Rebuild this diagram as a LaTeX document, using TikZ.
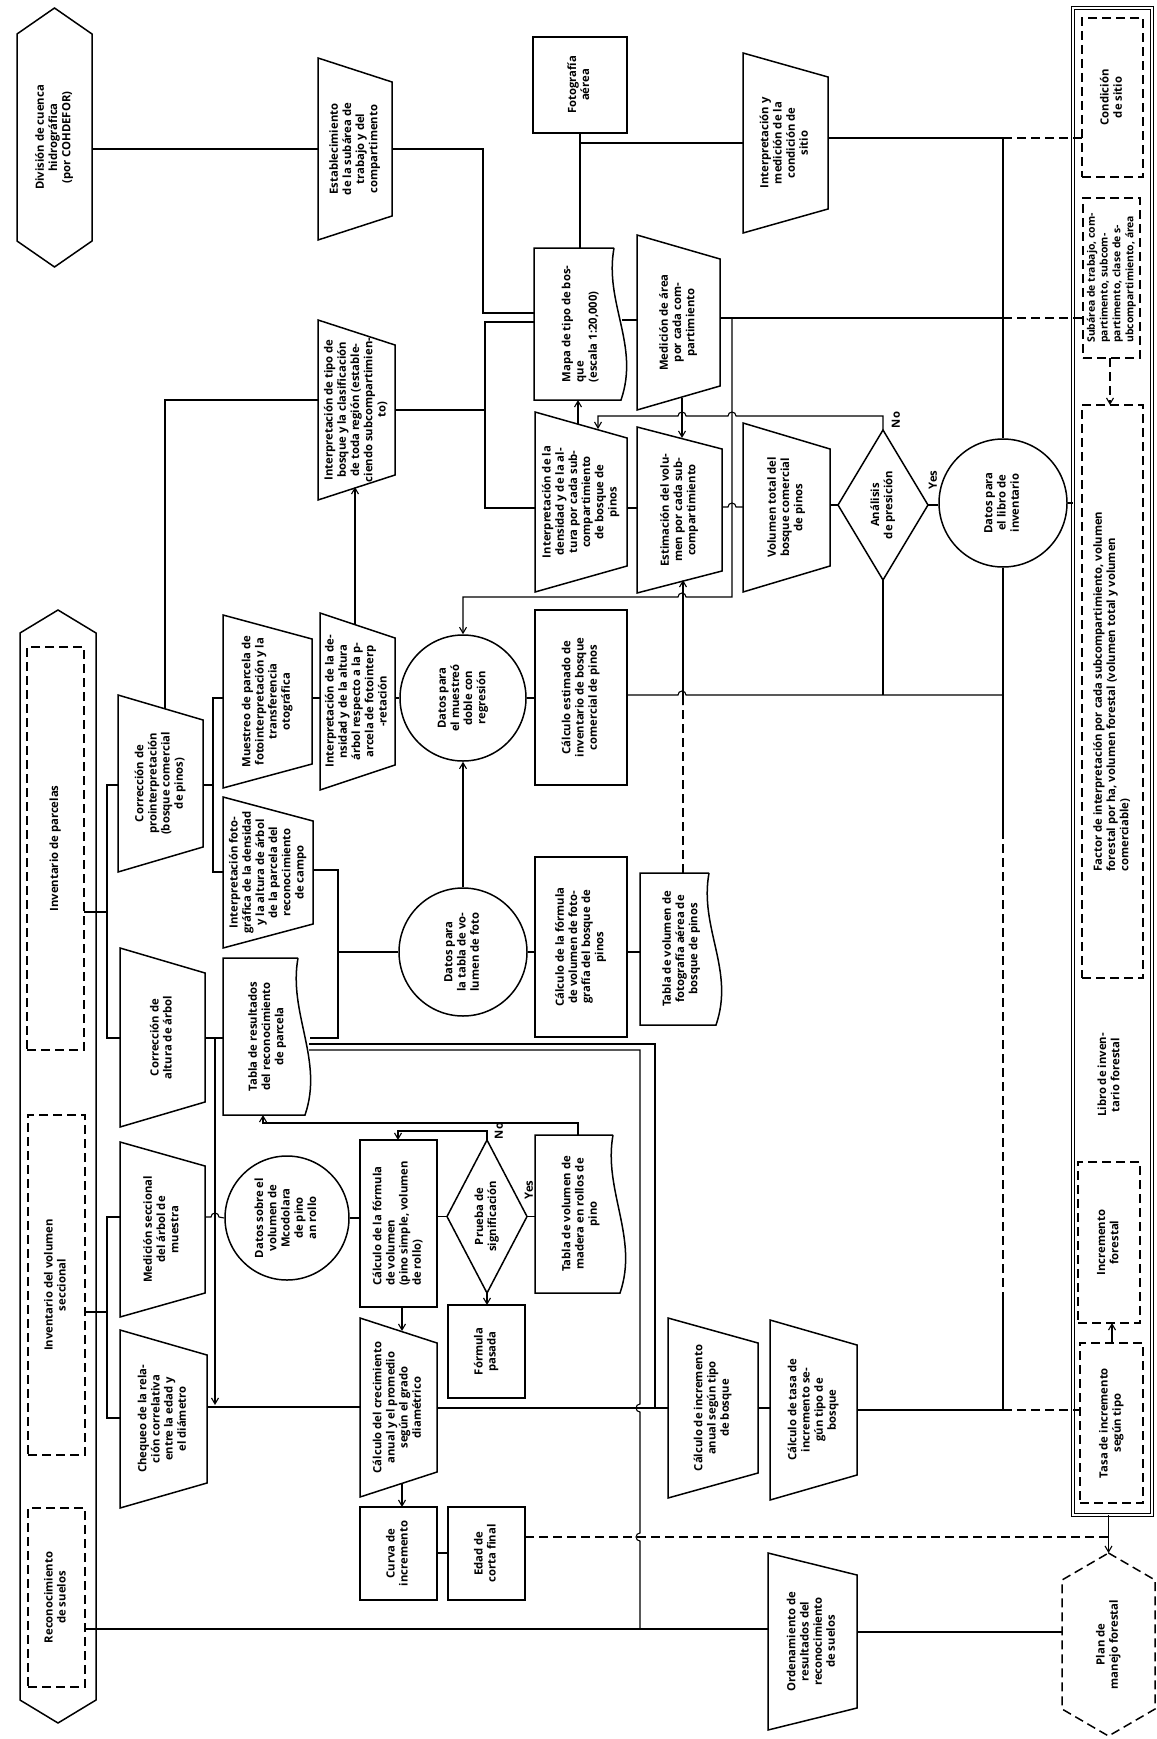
\documentclass[tikz,border=0pt]{standalone}
\usepackage{fontspec}
\usepackage{graphicx}
\setmainfont{Open Sans}
\usetikzlibrary{calc,arrows.meta}
\newcommand\rt[1]{\rotatebox{90}{\begin{tabular}{@{}c@{}}#1\end{tabular}}}
\newcommand\rtl[1]{\rotatebox{90}{\begin{tabular}{@{}l@{}}#1\end{tabular}}}
\newcommand\trap[2]{\draw[shp] (#1.north west) -- (#1.south west) -- ($(#1.south east)+(0,-#2)$) -- ($(#1.north east)+(0,#2)$) -- cycle;}
\newcommand\docsh[1]{\draw[shp] ($(#1.north east)+(-14,0)$) -- (#1.north west) -- (#1.south west) -- ($(#1.south east)+(-7,0)$) .. controls ($(#1.south east)+(12,-55)$) and ($(#1.north east)+(-24,55)$) .. ($(#1.north east)+(-14,0)$);}
\newcommand\hexv[3][]{\draw[shp,#1] (#2.north) -- ($(#2.north east)+(0,#3)$) -- ($(#2.south east)+(0,-#3)$) -- (#2.south) -- ($(#2.south west)+(0,-#3)$) -- ($(#2.north west)+(0,#3)$) -- cycle;}
\newcommand\dia[1]{\draw[shp] (#1.north) -- (#1.east) -- (#1.south) -- (#1.west) -- cycle;}
\begin{document}
\begin{tikzpicture}[x=1pt,y=-1pt,line width=1.1pt,
  every node/.style={font=\bfseries\fontsize{11.3}{13.2}\selectfont},
  tb/.style={rectangle,inner sep=0pt,outer sep=0pt},
  dsh/.style={dash pattern=on 9pt off 5pt},
  rb/.style={tb,draw,line width=1.5pt},
  db/.style={tb,draw,line width=1.5pt,dsh},
  cb/.style={circle,draw,line width=1.5pt,inner sep=0pt,minimum size=#1},
  shp/.style={line width=1.5pt},
  arr/.style={-{Straight Barb[length=6pt,width=7pt]}},
  lab/.style={rotate=90,inner sep=0pt}]
\useasboundingbox (0,0) rectangle (1156,1739);

% ---- left column
\node[tb,minimum width=75pt,minimum height=259pt] (div) at (54.5,137.5) {\rt{División de cuenca\\hidrográfica\\(por COHDEFOR)}};
\hexv{div}{26}
\node[tb,minimum width=76pt,minimum height=1113pt] (inv) at (58,1166.5) {};
\hexv{inv}{23}
\node[db,minimum width=57pt,minimum height=403pt] (parc) at (55.5,848.5) {\rt{Inventario de parcelas}};
\node[db,minimum width=57pt,minimum height=340pt] (vol) at (56.5,1285) {\rt{Inventario del volumen\\seccional}};
\node[db,minimum width=57pt,minimum height=179pt] (suel) at (56.5,1597.5) {\rt{Reconocimiento\\de suelos}};

% ---- trapezoids and boxes
\node[tb,minimum width=74pt,minimum height=182pt] (est) at (355,149) {\rt{Establecimiento\\de la subárea de\\trabajo y del\\compartimento}};
\trap{est}{24}
\node[tb,minimum width=77pt,minimum height=180pt] (tipo) at (356.5,410) {\rt{Interpretación de tipo de\\bosque y la clasificación\\de toda región (estable-\\ciendo subcompartimien-\\to)}};
\trap{tipo}{25}
\node[rb,minimum width=94pt,minimum height=96pt] (foto) at (580,85) {\rt{Fotografía\\aérea}};
\node[tb,minimum width=94pt,minimum height=152pt] (mapa) at (581,324) {\rtl{Mapa de tipo de bos-\\que\\(escala 1:20,000)}};
\docsh{mapa}
\node[tb,minimum width=83pt,minimum height=175pt] (medarea) at (678.5,322.5) {\rt{Medición de área\\por cada com-\\partimiento}};
\trap{medarea}{24}
\node[tb,minimum width=85pt,minimum height=180pt] (sitio) at (785.5,143) {\rt{Interpretación y\\medición de la\\condición de\\sitio}};
\trap{sitio}{24}
\node[tb,minimum width=92pt,minimum height=180pt] (intdens) at (581,502) {\rt{Interpretación de la\\densidad y de la al-\\tura por cada sub-\\compartimiento\\de bosque de\\pinos}};
\trap{intdens}{26}
\node[tb,minimum width=85pt,minimum height=166pt] (estim) at (679.5,510) {\rt{Estimación del volu-\\men por cada sub-\\compartimiento}};
\trap{estim}{22}
\node[tb,minimum width=87pt,minimum height=169pt] (voltot) at (786.5,507.5) {\rt{Volumen total del\\bosque comercial\\de pinos}};
\trap{voltot}{26}
\node[tb,minimum width=90pt,minimum height=150pt] (analisis) at (883,505) {\rt{Análisis\\de presición}};
\dia{analisis}
\node[cb=128pt] (libro) at (1003,503) {\rt{Datos para\\el libro de\\inventario}};

\node[tb,minimum width=85pt,minimum height=177pt] (cprofi) at (160.5,783.5) {\rt{Corrección de\\prointerpretación\\(bosque comercial\\de pinos)}};
\trap{cprofi}{25}
\node[tb,minimum width=89pt,minimum height=173pt] (muestreo) at (267.5,701.5) {\rt{Muestreo de parcela de\\fotointerpretación y la\\transferencia\\otográfica}};
\trap{muestreo}{24}
\node[tb,minimum width=90pt,minimum height=151pt] (intfot) at (268,872.5) {\rt{Interpretación foto-\\gráfica de la densidad\\y la altura de árbol\\de la parcela del\\reconocimiento\\de campo}};
\trap{intfot}{24}
\node[tb,minimum width=75pt,minimum height=177pt] (intdfi) at (357.5,701.5) {\rt{Interpretación de la de-\\nsidad y de la altura\\árbol respecto a la p-\\arcela de fotointerp\\-retación}};
\trap{intdfi}{25}
\node[cb=126pt] (muest) at (463,698) {\rt{Datos para\\el muestreó\\doble con\\regresión}};
\node[rb,minimum width=92pt,minimum height=175pt] (calcest) at (581,697.5) {\rt{Cálculo estimado de\\inventario de bosque\\comercial de pinos}};
\node[cb=128pt] (tabfoto) at (463,952) {\rt{Datos para\\la tabla de vo-\\lumen de foto}};
\node[rb,minimum width=92pt,minimum height=180pt] (calcfv) at (581,947) {\rt{Cálculo de la fórmula\\de volumen de foto-\\grafía del bosque de\\pinos}};
\node[tb,minimum width=83pt,minimum height=152pt] (tabvfa) at (681.5,949) {\rt{Tabla de volumen de\\fotografía aérea de\\bosque de pinos}};
\docsh{tabvfa}

\node[tb,minimum width=85pt,minimum height=179pt] (corralt) at (162.5,1037.5) {\rt{Corrección de\\altura de árbol}};
\trap{corralt}{25}
\node[tb,minimum width=89pt,minimum height=157pt] (tabres) at (267.5,1036.5) {\rt{Tabla de resultados\\del reconocimiento\\de parcela}};
\docsh{tabres}
\node[tb,minimum width=85pt,minimum height=175pt] (medsec) at (162.5,1229.5) {\rt{Medición seccional\\del árbol de\\muestra}};
\trap{medsec}{24}
\node[cb=124pt] (datvol) at (287,1218) {\rt{Datos sobre el\\volumen de\\Mcodolara\\de pino\\an rollo}};
\node[rb,minimum width=77pt,minimum height=167pt] (calcfor) at (398.5,1223.5) {\rtl{Cálculo de la fórmula\\de volumen\\(pino simple, volumen\\de rollo)}};
\node[tb,minimum width=80pt,minimum height=153pt] (prueba) at (487,1216.5) {\rt{Prueba de\\significación}};
\dia{prueba}
\node[tb,minimum width=92pt,minimum height=158pt] (tabmad) at (581,1214) {\rt{Tabla de volumen de\\madera en rollos de\\pino}};
\docsh{tabmad}
\node[rb,minimum width=77pt,minimum height=93pt] (formpas) at (486.5,1351.5) {\rt{Fórmula\\pasada}};
\node[tb,minimum width=87pt,minimum height=178pt] (cheq) at (163.5,1419) {\rt{Chequeo de la rela-\\ción correlativa\\entre la edad y\\el diámetro}};
\trap{cheq}{25}
\node[tb,minimum width=77pt,minimum height=179pt] (crec) at (398.5,1407.5) {\rt{Cálculo del crecimiento\\anual y el promedio\\según el grado\\diamétrico}};
\trap{crec}{25}
\node[rb,minimum width=77pt,minimum height=93pt] (curva) at (398.5,1553.5) {\rt{Curva de\\incremento}};
\node[rb,minimum width=77pt,minimum height=93pt] (edad) at (486.5,1553.5) {\rt{Edad de\\corta final}};
\node[tb,minimum width=90pt,minimum height=180pt] (cinc) at (713,1408) {\rt{Cálculo de incremento\\anual según tipo\\de bosque}};
\trap{cinc}{25}
\node[tb,minimum width=87pt,minimum height=180pt] (ctasa) at (813.5,1410) {\rt{Cálculo de tasa de\\incremento se-\\gún tipo de\\bosque}};
\trap{ctasa}{25}
\node[tb,minimum width=89pt,minimum height=177pt] (orden) at (812.5,1641.5) {\rt{Ordenamiento de\\resultados del\\reconocimiento\\de suelos}};
\trap{orden}{22}
\node[tb,minimum width=93pt,minimum height=183pt] (plan) at (1108.5,1644.5) {\rt{Plan de\\manejo forestal}};
\hexv[dsh]{plan}{27}

% ---- right output column
\node[tb,draw,double,double distance=1.8pt,line width=1pt,minimum width=79pt,minimum height=1507pt] (out) at (1112.5,761.5) {};
\node[db,minimum width=61pt,minimum height=159pt] (condsit) at (1112.5,97.5) {\rt{Condición\\de sitio}};
\node[db,minimum width=57pt,minimum height=160pt,font=\bfseries\fontsize{10.4}{12.8}\selectfont] (subarea) at (1111.5,278) {\rtl{Subárea de trabajo, com-\\partimento, subcom-\\partimento, clase de s-\\ubcompartimiento, área}};
\node[db,minimum width=61pt,minimum height=573pt] (factor) at (1112.5,691.5) {\rtl{Factor de interpretación por cada subcompartimiento, volumen\\forestal por ha, volumen forestal (volumen total y volumen\\comerciable)}};
\node[tb] (libinv) at (1110,1075) {\rt{Libro de inven-\\tario forestal}};
\node[db,minimum width=62pt,minimum height=161pt] (incfor) at (1109,1242.5) {\rt{Incremento\\forestal}};
\node[db,minimum width=63pt,minimum height=160pt] (tasa) at (1111.5,1423) {\rt{Tasa de incremento\\según tipo}};

% ---- labels
\node[lab] (yes1) at (933,480) {Yes};
\node[lab] (no1) at (896,420) {No};
\node[lab] (yes2) at (529,1190) {Yes};
\node[lab] (no2) at (499,1131) {No};

% ---- connectors: top area
\draw (div.east |- est.west) -- (est.west);
\draw (est.east) -- (483,149) -- (483,313) -- (mapa.west |- 0,313);
\draw (tipo.east) -- (485,410);
\draw (mapa.west |- 0,322) -- (485,322) -- (485,508) -- (intdens.west |- 0,508);
\draw (foto.south) -- (foto.south |- mapa.north);
\draw (foto.south |- sitio.west) -- (sitio.west);
\draw (622,320) -- (medarea.west |- 0,320);
\draw (medarea.east |- 0,318) -- (1003,318);
\draw[dsh] (1003,318) -- (subarea.west |- 0,318);
\draw (sitio.east |- 0,138) -- (1003,138) -- (libro.north);
\draw[dsh] (1003,138) -- (condsit.west |- 0,138);
\draw[arr] (578,424) -- (578,0 |- mapa.south);
\draw[arr] (682,398) -- (682,438);
\draw[arr] (analisis.north) -- (883,416) -- (736,416) arc (0:-180:4) -- (686,416) arc (0:-180:4) -- (598,416) -- (598,429);
\draw (intdens.east |- 0,508) -- (estim.west |- 0,508);
\draw (estim.east |- 0,507) -- (728,507) arc (180:360:4) -- (voltot.west |- 0,507);
\draw (voltot.east |- 0,505) -- (analisis.west);
\draw (analisis.east) -- (analisis.east -| libro.west);
\draw[arr] (732,318) -- (732,597) -- (686,597) arc (0:-180:4) -- (463,597) -- (muest.north);
\draw (analisis.south) -- (analisis.south |- 0,695);
\draw (calcest.east |- 0,695) -- (678,695) arc (180:360:4) -- (1003,695);
\draw (libro.south) -- (1003,830);
\draw[dsh] (1003,830) -- (1003,1300);
\draw (1003,1300) -- (1003,1410);
\draw (ctasa.east |- 0,1410) -- (1003,1410);
\draw[dsh] (1003,1410) -- (tasa.west |- 0,1410);
\draw (libro.east) -- (out.west |- libro.east);
\draw[arr,dsh] (1110,0 |- subarea.south) -- (1110,0 |- factor.north);
\draw[arr] (1112,0 |- tasa.north) -- (1112,0 |- incfor.south);
\draw[arr] (out.south -| plan.north) -- (plan.north);
\draw (orden.east |- 0,1632) -- (plan.west |- 0,1632);
\draw[dsh] (edad.east |- 0,1537) -- (plan.north |- 0,1537);

% ---- buses from the inventory column
\draw (parc.east |- 0,912) -- (107,912);
\draw (cprofi.west |- 0,785) -- (107,785) -- (107,1038) -- (corralt.west |- 0,1038);
\draw (vol.east |- 0,1312) -- (107,1312);
\draw (medsec.west |- 0,1217) -- (107,1217) -- (107,1418) -- (cheq.west |- 0,1418);
\draw (suel.east |- 0,1629) -- (orden.west |- 0,1629);

% ---- middle connectors
\draw (165,709) -- (165,400) -- (tipo.west |- 0,400);
\draw (cprofi.east |- 0,785) -- (213,785);
\draw (muestreo.west |- 0,698) -- (213,698) -- (213,872) -- (intfot.west |- 0,872);
\draw (muestreo.east |- 0,698) -- (intdfi.west |- 0,698);
\draw[arr] (355,625) -- (355,487);
\draw (intdfi.east |- muest.west) -- (muest.west);
\draw (muest.east) -- (muest.east -| calcest.west);
\draw[arr] (tabfoto.north) -- (muest.south);
\draw (intfot.east |- 0,870) -- (338,870) -- (338,1038) -- (310,1038);
\draw (338,952) -- (tabfoto.west);
\draw (tabfoto.east) -- (tabfoto.east -| calcfv.west);
\draw (calcfv.east |- 0,952) -- (tabvfa.west |- 0,952);
\draw[dsh] (683,0 |- tabvfa.north) -- (683,705);
\draw[arr] (683,705) -- (683,580);

\draw (corralt.east |- 0,1038) -- (tabres.west |- 0,1038);
\draw[arr] (215,1038) -- (215,1405);
\draw (309,1044) -- (655,1044) -- (655,1408);
\draw (309,1050) -- (640,1050) -- (640,1404) arc (270:90:4) -- (640,1533) arc (270:90:4) -- (640,1629);
\draw (medsec.east |- 0,1217) -- (211,1217) arc (180:360:4) -- (datvol.west);
\draw (datvol.east) -- (datvol.east -| calcfor.west);
\draw (calcfor.east |- prueba.west) -- (prueba.west);
\draw (prueba.east) -- (prueba.east -| tabmad.west);
\draw[arr] (prueba.south) -- (prueba.south |- formpas.north);
\draw[arr] (prueba.north) -- (487,1131) -- (398,1131) -- (398,0 |- calcfor.north);
\draw[arr] (578,0 |- tabmad.north) -- (578,1123) -- (263,1123) -- (263,0 |- tabres.south);
\draw[arr] (402,0 |- calcfor.south) -- (402,1331);
\draw (cheq.east |- 0,1407) -- (crec.west |- 0,1407);
\draw (crec.east |- 0,1408) -- (cinc.west |- 0,1408);
\draw[arr] (402,1483) -- (402,0 |- curva.north);
\draw (curva.east |- 0,1553) -- (edad.west |- 0,1553);
\draw (cinc.east |- 0,1408) -- (ctasa.west |- 0,1408);
\end{tikzpicture}
\end{document}
